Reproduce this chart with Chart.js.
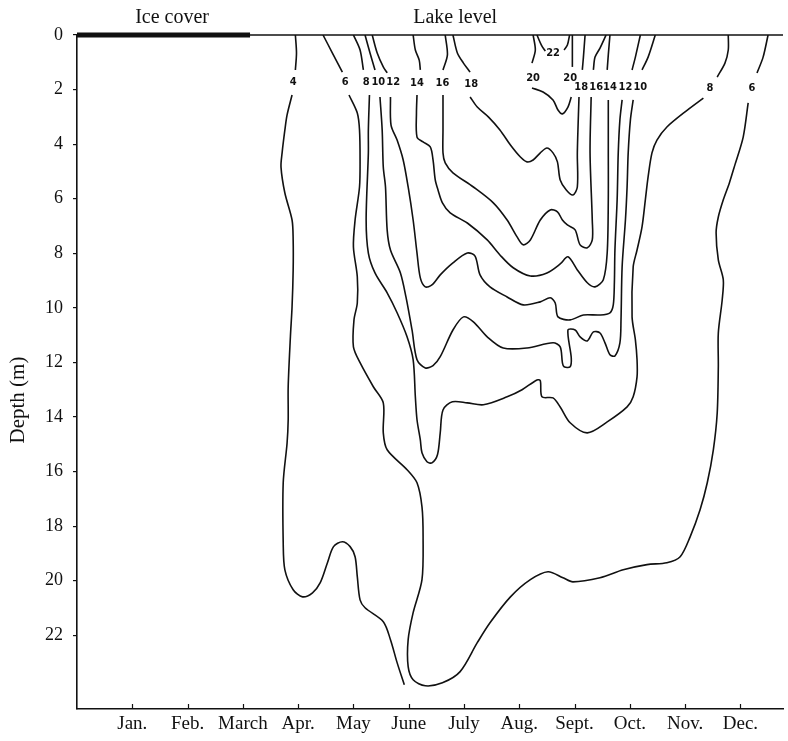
<!DOCTYPE html>
<html>
<head>
<meta charset="utf-8">
<title>Lake isotherms</title>
<script src="https://cdn.jsdelivr.net/npm/chart.js@4.4.1/dist/chart.umd.min.js"></script>
<style>
  html, body { margin: 0; padding: 0; background: #fff; }
  canvas { display: block; }
</style>
</head>
<body>
<canvas id="isoChart" width="788" height="741"></canvas>
<script>
// ---- data: x = month (Jan = 1), y = depth in m ----
const months = ['Jan.', 'Feb.', 'March', 'Apr.', 'May', 'June', 'July', 'Aug.', 'Sept.', 'Oct.', 'Nov.', 'Dec.'];
const depthTicks = [0, 2, 4, 6, 8, 10, 12, 14, 16, 18, 20, 22];
const iceCover = [0, 3.13];
const lakeLevel = [0, 12.77];

// isotherms, null = gap left for the label
const iso4 = [[3.95,0],[3.97,0.66],[3.95,1.28],null,
  [3.89,2.20],[3.80,2.93],[3.76,3.48],[3.71,4.32],[3.69,4.84],[3.76,5.79],[3.89,6.78],[3.91,7.51],[3.91,8.61],
  [3.89,9.96],[3.86,11.06],[3.82,12.89],[3.82,14.10],[3.80,14.95],[3.73,16.41],[3.73,18.61],[3.76,19.60],
  [3.91,20.33],[4.08,20.59],[4.26,20.44],[4.40,20.07],[4.53,19.34],[4.64,18.75],[4.80,18.57],[4.94,18.75],
  [5.03,19.12],[5.07,19.85],[5.12,20.70],[5.21,20.99],[5.54,21.50],[5.67,22.16],[5.79,23.00],[5.92,23.81]];

const iso6 = [[4.45,0],[4.62,0.66],[4.80,1.36],null,
  [4.92,2.20],[5.07,2.86],[5.11,3.48],[5.12,4.58],[5.11,5.57],[5.03,6.78],[5.00,7.77],[5.07,8.86],[5.07,9.82],
  [5.01,10.44],[5.00,11.43],[5.12,12.01],[5.36,12.89],[5.54,13.48],[5.54,14.58],[5.61,15.20],[5.97,15.93],
  [6.15,16.41],[6.24,17.29],[6.26,18.39],[6.24,19.96],[6.08,21.17],[5.99,22.16],[5.99,23.15],[6.08,23.63],
  [6.30,23.85],[6.61,23.74],[6.93,23.33],[7.24,22.27],[7.47,21.54],[7.84,20.59],[8.20,19.96],[8.52,19.67],
  [8.79,19.89],[8.97,20.04],[9.46,19.89],[9.88,19.60],[10.31,19.41],[10.67,19.34],[10.91,19.12],[11.09,18.39],
  [11.27,17.40],[11.40,16.41],[11.51,15.20],[11.58,13.85],[11.60,12.16],[11.60,10.92],[11.67,9.71],[11.69,8.97],
  [11.60,8.24],[11.56,7.25],[11.60,6.67],[11.69,6.04],[11.80,5.42],[11.90,4.76],[12.05,3.74],[12.14,2.49],null,
  [12.30,1.39],[12.41,0.81],[12.50,0]];

const iso8 = [[5.00,0],[5.12,0.55],[5.18,1.28],null,
  [5.29,2.20],[5.27,3.48],[5.27,4.32],[5.23,6.78],[5.27,7.99],[5.39,8.72],[5.61,9.45],[5.79,10.18],[5.97,11.06],
  [6.08,11.90],[6.12,13.26],[6.15,14.10],[6.21,14.84],[6.24,15.31],[6.33,15.64],[6.42,15.68],[6.52,15.38],
  [6.57,14.58],[6.62,13.74],[6.79,13.44],[7.06,13.48],[7.35,13.55],[7.78,13.26],[8.05,13.00],[8.32,12.64],
  [8.38,12.67],[8.41,13.26],[8.61,13.30],[8.74,13.63],[8.92,14.21],[9.23,14.58],[9.59,14.18],[9.95,13.63],
  [10.06,13.26],[10.13,12.53],[10.13,11.90],[10.10,11.17],[10.04,10.33],[10.06,8.50],[10.13,7.88],[10.22,7.03],
  [10.28,6.04],[10.33,5.20],[10.40,4.32],[10.49,3.85],[10.67,3.37],[11.04,2.75],[11.33,2.31],null,
  [11.58,1.54],[11.72,1.03],[11.78,0.55],[11.78,0]];

const iso10 = [[5.21,0],[5.30,0.66],[5.39,1.28],null,
  [5.48,2.27],[5.52,3.48],[5.54,4.84],[5.58,5.57],[5.61,7.14],[5.67,7.88],[5.85,8.72],[5.95,9.60],[6.06,10.81],
  [6.15,11.90],[6.30,12.20],[6.44,12.12],[6.57,11.79],[6.80,10.81],[6.99,10.33],[7.17,10.51],[7.42,11.06],
  [7.71,11.47],[8.14,11.47],[8.61,11.28],[8.74,11.43],[8.78,12.01],[8.81,12.16],[8.92,12.16],[8.94,11.83],
  [8.88,10.81],[9.01,10.81],[9.10,11.06],[9.23,11.21],[9.34,10.88],[9.46,10.92],[9.55,11.28],[9.64,11.72],
  [9.73,11.76],[9.82,11.28],[9.84,10.44],[9.86,8.50],[9.92,6.78],[9.95,5.57],[9.97,4.32],[10.01,3.11],[10.06,2.38],null,
  [10.22,1.28],[10.33,0.81],[10.46,0]];

const iso12 = [[5.34,0],[5.43,0.66],[5.54,1.17],[5.61,1.39],null,
  [5.67,2.27],[5.68,3.30],[5.79,3.85],[5.90,4.58],[5.99,5.57],[6.08,6.78],[6.15,7.99],[6.21,8.90],[6.30,9.23],
  [6.42,9.16],[6.57,8.79],[6.80,8.35],[7.06,7.99],[7.20,8.10],[7.29,8.79],[7.47,9.23],[7.78,9.60],[8.07,9.89],
  [8.38,9.78],[8.56,9.63],[8.65,9.82],[8.70,10.33],[8.92,10.44],[9.16,10.26],[9.46,10.26],[9.64,10.18],[9.70,9.89],
  [9.72,9.08],[9.73,7.88],[9.77,6.04],[9.79,4.32],[9.82,3.11],[9.86,2.38],null,
  [10.04,1.28],[10.10,0.81],[10.19,0]];

const iso14 = [[6.08,0],[6.12,0.55],[6.19,0.92],[6.21,1.28],null,
  [6.15,2.20],[6.14,2.86],[6.15,3.74],[6.26,3.92],[6.39,4.10],[6.44,4.58],[6.48,5.31],[6.53,5.68],[6.61,6.15],
  [6.75,6.52],[7.06,6.89],[7.42,7.51],[7.65,8.06],[7.89,8.53],[8.20,8.83],[8.50,8.72],[8.74,8.39],[8.88,8.13],
  [9.05,8.61],[9.23,9.08],[9.37,9.23],[9.52,8.97],[9.59,7.99],[9.61,6.04],[9.61,4.21],[9.61,2.38],null,
  [9.59,1.28],[9.61,0.73],[9.64,0]];

const iso16 = [[6.66,0],[6.70,0.73],[6.62,1.28],null,
  [6.62,2.20],[6.62,3.48],[6.62,4.32],[6.66,4.69],[6.80,5.05],[7.17,5.57],[7.53,6.15],[7.78,6.78],[7.96,7.40],
  [8.07,7.69],[8.20,7.51],[8.38,6.78],[8.56,6.41],[8.69,6.48],[8.78,6.78],[8.87,6.96],[9.01,7.14],[9.10,7.69],
  [9.23,7.80],[9.32,7.51],[9.32,6.78],[9.28,4.32],[9.30,2.27],null,
  [9.34,1.28],[9.37,0.81],[9.46,0.48],[9.57,0]];

const iso18 = [[6.80,0],[6.88,0.66],[6.99,1.03],[7.11,1.36],null,
  [7.11,2.27],[7.24,2.64],[7.44,3.00],[7.65,3.48],[7.84,4.03],[8.02,4.47],[8.14,4.65],[8.25,4.58],[8.38,4.32],
  [8.50,4.14],[8.61,4.32],[8.69,4.65],[8.74,5.31],[8.85,5.68],[8.97,5.86],[9.05,5.57],[9.05,4.32],[9.08,2.27],null,
  [9.14,1.28],[9.16,0.81],[9.19,0]];

const iso20 = [[8.25,0],[8.29,0.55],[8.23,1.03],null,
  [8.23,1.94],[8.43,2.09],[8.61,2.38],[8.70,2.75],[8.78,2.89],[8.88,2.64],[8.94,2.27],null,
  [8.96,1.17],[8.96,0]];

const iso22 = [[8.32,0],[8.40,0.37],[8.47,0.59],null,[8.81,0.55],[8.87,0.37],[8.91,0]];

// label anchors (month, depth) for the isotherm values
const isoLabels = [
  { text: '4', month: 3.91, depth: 1.72 },
  { text: '6', month: 4.85, depth: 1.72 },
  { text: '8', month: 5.23, depth: 1.72 },
  { text: '10', month: 5.45, depth: 1.72 },
  { text: '12', month: 5.72, depth: 1.72 },
  { text: '14', month: 6.15, depth: 1.76 },
  { text: '16', month: 6.61, depth: 1.76 },
  { text: '18', month: 7.13, depth: 1.79 },
  { text: '20', month: 8.25, depth: 1.58 },
  { text: '22', month: 8.61, depth: 0.66 },
  { text: '20', month: 8.92, depth: 1.58 },
  { text: '18', month: 9.12, depth: 1.90 },
  { text: '16', month: 9.39, depth: 1.90 },
  { text: '14', month: 9.64, depth: 1.90 },
  { text: '12', month: 9.92, depth: 1.90 },
  { text: '10', month: 10.19, depth: 1.90 },
  { text: '8', month: 11.45, depth: 1.94 },
  { text: '6', month: 12.21, depth: 1.94 }
];

const headings = [
  { text: 'Ice cover', month: 1.72 },
  { text: 'Lake level', month: 6.84 }
];

// ---- build datasets ----
const INK = '#111111';

function splitSegments(line) {
  const segs = [];
  let cur = [];
  line.forEach(p => {
    if (p === null) {
      if (cur.length) segs.push(cur);
      cur = [];
    } else {
      cur.push({ x: p[0], y: p[1] });
    }
  });
  if (cur.length) segs.push(cur);
  return segs;
}

const isotherms = [iso4, iso6, iso8, iso10, iso12, iso14, iso16, iso18, iso20, iso22];
const datasets = [];

isotherms.forEach(line => {
  splitSegments(line).forEach(seg => {
    datasets.push({
      data: seg,
      showLine: true,
      borderColor: INK,
      borderWidth: 1.6,
      pointRadius: 0,
      tension: 0.3,
      fill: false
    });
  });
});

// lake surface and ice cover
datasets.push({
  data: lakeLevel.map(m => ({ x: m, y: 0 })),
  showLine: true, borderColor: INK, borderWidth: 1.6, pointRadius: 0, tension: 0, clip: false
});
datasets.push({
  data: iceCover.map(m => ({ x: m, y: 0 })),
  showLine: true, borderColor: INK, borderWidth: 5, pointRadius: 0, tension: 0, clip: false
});

const textPlugin = {
  id: 'isoText',
  afterDatasetsDraw(chart) {
    const { ctx, chartArea, scales: { x, y } } = chart;
    ctx.save();
    ctx.fillStyle = INK;
    ctx.strokeStyle = INK;
    ctx.textAlign = 'center';
    ctx.textBaseline = 'middle';

    // month ticks point up into the plot
    ctx.lineWidth = 1.2;
    months.forEach((_, i) => {
      const px = Math.round(x.getPixelForValue(i + 1)) + 0.5;
      ctx.beginPath();
      ctx.moveTo(px, chartArea.bottom);
      ctx.lineTo(px, chartArea.bottom - 5);
      ctx.stroke();
    });

    ctx.font = 'bold 11px "DejaVu Sans Condensed", "Liberation Sans", sans-serif';
    isoLabels.forEach(l => {
      ctx.fillText(l.text, x.getPixelForValue(l.month), y.getPixelForValue(l.depth));
    });

    ctx.font = '20px "Liberation Serif", serif';
    headings.forEach(h => {
      ctx.fillText(h.text, x.getPixelForValue(h.month), chartArea.top - 17);
    });

    // axis title
    ctx.font = '21px "Liberation Serif", serif';
    ctx.translate(18, 400);
    ctx.rotate(-Math.PI / 2);
    ctx.fillText('Depth (m)', 0, 0);
    ctx.restore();
  }
};

const serif = { family: '"Liberation Serif", "Times New Roman", serif' };

new Chart(document.getElementById('isoChart'), {
  type: 'scatter',
  data: { datasets: datasets },
  plugins: [textPlugin],
  options: {
    responsive: false,
    animation: false,
    devicePixelRatio: 1,
    layout: { padding: { top: 35, right: 5, left: 0, bottom: 0 } },
    plugins: {
      legend: { display: false },
      tooltip: { enabled: false }
    },
    scales: {
      x: {
        type: 'linear',
        min: 0,
        max: 12.77,
        afterBuildTicks: scale => { scale.ticks = months.map((_, i) => ({ value: i + 1 })); },
        afterFit: scale => { scale.height = 32; },
        ticks: {
          color: INK,
          autoSkip: false,
          maxRotation: 0,
          padding: 4,
          font: Object.assign({ size: 19 }, serif),
          callback: value => months[value - 1]
        },
        grid: { drawOnChartArea: false, drawTicks: false },
        border: { color: INK, width: 1.6 }
      },
      y: {
        type: 'linear',
        reverse: true,
        min: 0,
        max: 24.7,
        afterBuildTicks: scale => { scale.ticks = depthTicks.map(v => ({ value: v })); },
        afterFit: scale => { scale.width = 77; },
        ticks: {
          color: INK,
          padding: 10,
          font: Object.assign({ size: 18 }, serif)
        },
        grid: { drawOnChartArea: false, color: INK, tickLength: 4, lineWidth: 1.2 },
        border: { color: INK, width: 1.6 }
      }
    }
  }
});
</script>
</body>
</html>
